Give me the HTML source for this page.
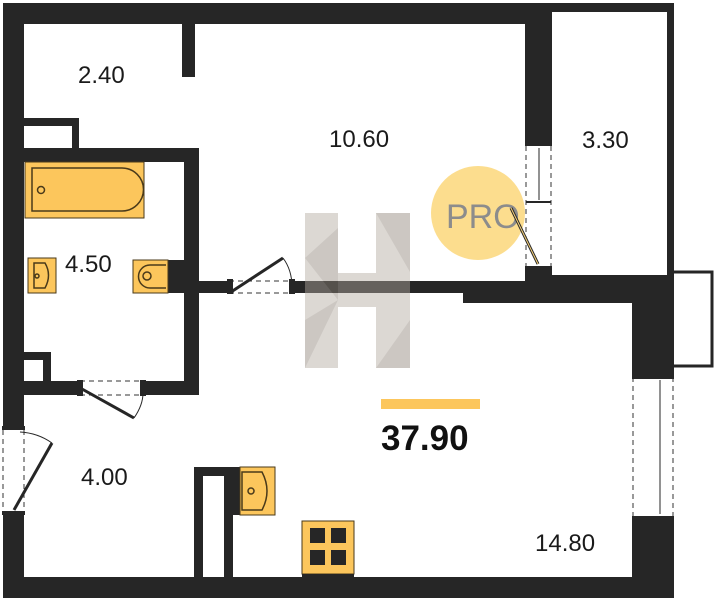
<!DOCTYPE html>
<html><head><meta charset="utf-8"><style>
html,body{margin:0;padding:0;background:#fff;}
svg{display:block;}
text{font-family:"Liberation Sans",sans-serif;}
</style></head><body>
<svg width="717" height="600" viewBox="0 0 717 600" xmlns="http://www.w3.org/2000/svg">
<rect width="717" height="600" fill="#fff"/>
<g fill="#262626">
<!-- top wall -->
<rect x="3" y="3" width="549" height="21"/>
<rect x="552" y="3" width="122" height="9"/>
<rect x="667" y="3" width="7" height="297"/>
<!-- left wall -->
<rect x="3" y="3" width="21" height="425"/>
<rect x="3" y="513" width="21" height="85"/>
<!-- bottom wall -->
<rect x="3" y="577" width="671" height="21"/>
<!-- right wall of 14.80 -->
<rect x="632" y="275" width="42" height="100"/>
<rect x="632" y="518" width="42" height="80"/>
<!-- internal stub -->
<rect x="182" y="23" width="13" height="54"/>
<!-- wall between 10.60 and 3.30 -->
<rect x="525" y="3" width="27" height="142"/>
<rect x="525" y="268" width="27" height="35"/>
<!-- 3.30 bottom -->
<rect x="552" y="275" width="122" height="10"/>
<!-- horizontal wall -->
<rect x="293" y="281" width="240" height="12"/>
<rect x="463" y="281" width="169" height="22"/>
<rect x="199" y="281" width="28" height="12"/>
<!-- closet top-left -->
<rect x="24" y="118" width="55" height="8"/>
<rect x="72" y="118" width="7" height="32"/>
<!-- bathroom walls -->
<rect x="24" y="148" width="175" height="14"/>
<rect x="184" y="148" width="15" height="247"/>
<rect x="24" y="381" width="54" height="14"/>
<rect x="145" y="381" width="54" height="14"/>
<rect x="24" y="352" width="27" height="8"/>
<rect x="43" y="352" width="8" height="30"/>
<!-- kitchen column -->
<rect x="194" y="467" width="39" height="9"/>
<rect x="194" y="467" width="9" height="110"/>
<rect x="224" y="467" width="9" height="110"/>
<rect x="233" y="467" width="7" height="48"/>
<!-- toilet tank -->
<rect x="166" y="260" width="18" height="33"/>
</g>
<!-- balcony -->
<path d="M674 272 H712 V366 H674" fill="none" stroke="#262626" stroke-width="3"/>
<!-- windows/doors dashed -->
<g stroke="#333" stroke-width="1" fill="none" stroke-dasharray="5,4">
<line x1="526" y1="146" x2="526" y2="268"/><line x1="551" y1="146" x2="551" y2="268"/>
<line x1="633" y1="377" x2="633" y2="518"/><line x1="673" y1="377" x2="673" y2="518"/>
<line x1="3" y1="430" x2="3" y2="513"/><line x1="24" y1="430" x2="24" y2="513"/>
<line x1="229" y1="281" x2="291" y2="281"/><line x1="229" y1="293" x2="291" y2="293"/>
<line x1="80" y1="381" x2="143" y2="381"/><line x1="80" y1="395" x2="143" y2="395"/>
</g>
<g fill="#262626">
<rect x="525" y="143" width="27" height="3"/><rect x="525" y="266" width="27" height="3"/>
<rect x="632" y="375" width="42" height="4"/><rect x="632" y="516" width="42" height="4"/>
<rect x="2" y="426" width="23" height="4"/><rect x="2" y="511" width="23" height="4"/>
<rect x="227" y="279" width="6" height="15"/><rect x="289" y="279" width="6" height="15"/>
<rect x="77" y="380" width="6" height="16"/><rect x="140" y="380" width="6" height="16"/>
</g>
<g stroke="#262626" fill="none">
<line x1="539" y1="148" x2="539" y2="200" stroke-width="1"/>
<line x1="526" y1="202" x2="551" y2="202" stroke-width="2"/>
<line x1="660" y1="380" x2="660" y2="514" stroke-width="1"/>
<line x1="231" y1="292" x2="283" y2="258" stroke-width="3"/>
<path d="M283 258 Q292 270 292 287" stroke-width="1"/>
<line x1="82" y1="389" x2="134" y2="418" stroke-width="3"/>
<path d="M134 418 Q143 405 143 393" stroke-width="1"/>
<line x1="14" y1="510" x2="52" y2="443" stroke-width="3"/>
<path d="M52 443 Q38 433 20 432" stroke-width="1"/>
</g>
<!-- fixtures -->
<g stroke="#4a3a1a" stroke-width="1.5">
<rect x="25" y="162" width="119" height="56" fill="#fcc65c" stroke-width="1"/>
<path d="M32 168 H122 A20 20 0 0 1 122 211 H32 Z" fill="none"/>
<circle cx="41" cy="190" r="3.5" fill="none"/>
<rect x="28" y="258" width="28" height="35" fill="#fcc65c" stroke-width="1"/>
<path d="M34 263 H45 Q52 275 45 288 H34 Z" fill="none"/>
<circle cx="37" cy="276" r="2" fill="none"/>
<rect x="133" y="260" width="35" height="33" fill="#fcc65c" stroke-width="1"/>
<path d="M166 265 H150 A11 11 0 0 0 150 288 H166" fill="none"/>
<circle cx="147" cy="276" r="4" fill="none"/>
<rect x="240" y="467" width="35" height="48" fill="#fcc65c" stroke-width="1"/>
<path d="M242 472 H262 Q272 491 262 510 H242 Z" fill="none"/>
<circle cx="251" cy="491" r="3" fill="none"/>
<rect x="302" y="521" width="52" height="53" fill="#fcc65c" stroke-width="1"/>
</g>
<g fill="#262626">
<rect x="310" y="528" width="15" height="15"/><rect x="331" y="528" width="15" height="15"/>
<rect x="310" y="550" width="15" height="15"/><rect x="331" y="550" width="15" height="15"/>
<rect x="302" y="574" width="52" height="4"/>
</g>
<!-- H watermark -->
<g opacity="0.45">
<rect x="305" y="213" width="33" height="155" fill="#b3aaa0"/>
<rect x="376" y="213" width="34" height="155" fill="#b3aaa0"/>
<rect x="338" y="273" width="38" height="34" fill="#b3aaa0"/>
<polygon points="305,258 338,228 338,300" fill="#8f857a"/>
<polygon points="376,213 410,213 410,272" fill="#8f857a"/>
<polygon points="305,320 338,300 305,368" fill="#8f857a"/>
<polygon points="410,320 376,368 410,368" fill="#8f857a"/>
</g>
<!-- PRO -->
<circle cx="478" cy="213" r="47" fill="#fbd77a" opacity="0.85"/>
<text x="446" y="228" font-size="34" fill="#8c8c8c">PRO</text>
<line x1="511" y1="208" x2="538" y2="264" stroke="#262626" stroke-width="3"/>
<line x1="511" y1="208" x2="538" y2="264" stroke="#f7d27a" stroke-width="1"/>
<!-- labels -->
<g font-size="24" fill="#1a1a1a">
<text x="78" y="83">2.40</text>
<text x="329" y="147">10.60</text>
<text x="582" y="148">3.30</text>
<text x="65" y="272">4.50</text>
<text x="81" y="485">4.00</text>
<text x="535" y="551">14.80</text>
</g>
<rect x="381" y="399" width="99" height="10" fill="#fcc65c"/>
<text x="381" y="450" font-size="35" font-weight="bold" fill="#111">37.90</text>
</svg>
</body></html>
